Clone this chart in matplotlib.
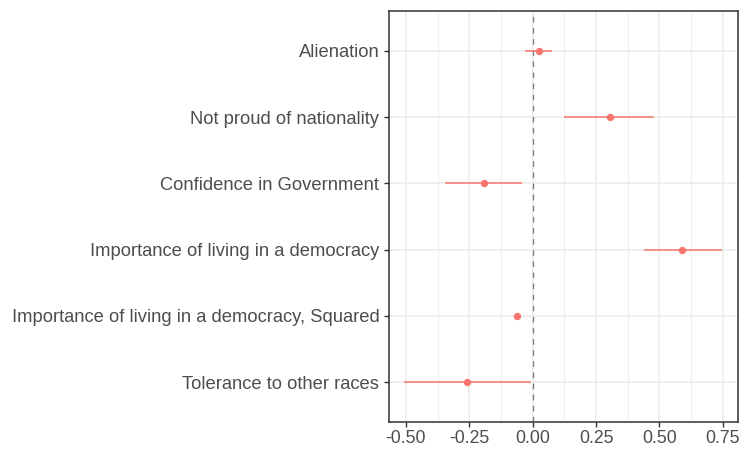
import numpy as np
import matplotlib.pyplot as plt
from matplotlib.ticker import MultipleLocator

# variables, top to bottom as shown
variables = ['Alienation',
             'Not proud of nationality',
             'Confidence in Government',
             'Importance of living in a democracy',
             'Importance of living in a democracy, Squared',
             'Tolerance to other races']
estimate = [0.024, 0.305, -0.193, 0.591, -0.061, -0.259]
ci_low = [-0.029, 0.124, -0.347, 0.441, -0.066, -0.507]
ci_high = [0.075, 0.480, -0.041, 0.746, -0.056, -0.007]

plt.rcParams['font.family'] = ['Liberation Sans', 'DejaVu Sans']

fig = plt.figure(figsize=(7.44, 4.5), dpi=100)
ax = fig.add_axes([389 / 744, 1 - 422 / 450, 349 / 744, 411 / 450])

ypos = np.arange(len(variables), 0, -1)
col = '#F8766D'

ax.axvline(0, color='#7F7F7F', linestyle=(0, (4, 4)), linewidth=1.0, zorder=2)
ax.hlines(ypos, ci_low, ci_high, color=col, linewidth=1.1, zorder=3)
ax.plot(estimate, ypos, 'o', color=col, markersize=4.3, zorder=4)

ax.set_xlim(-0.567, 0.81)
ax.set_ylim(0.4, 6.6)
ax.xaxis.set_minor_locator(MultipleLocator(0.125))
ax.set_xticks([-0.5, -0.25, 0, 0.25, 0.5, 0.75])
ax.set_xticklabels(['-0.50', '-0.25', '0.00', '0.25', '0.50', '0.75'])
ax.set_yticks(ypos)
ax.set_yticklabels(variables)

ax.grid(True, which='major', color='#EBEBEB', linewidth=1.1, zorder=0)
ax.grid(True, which='minor', axis='x', color='#EEEEEE', linewidth=0.7, zorder=0)
ax.set_axisbelow(True)

ax.tick_params(axis='y', which='major', length=3.5, width=1.0, color='#333333',
               labelcolor='#4D4D4D', labelsize=13.2, pad=3.5)
ax.tick_params(axis='x', which='major', length=3.5, width=1.0, color='#333333',
               labelcolor='#4D4D4D', labelsize=12.7, pad=2.5)
ax.tick_params(axis='x', which='minor', length=0)
for s in ax.spines.values():
    s.set_color('#333333')
    s.set_linewidth(1.1)

fig.savefig('out.png', dpi=100)
